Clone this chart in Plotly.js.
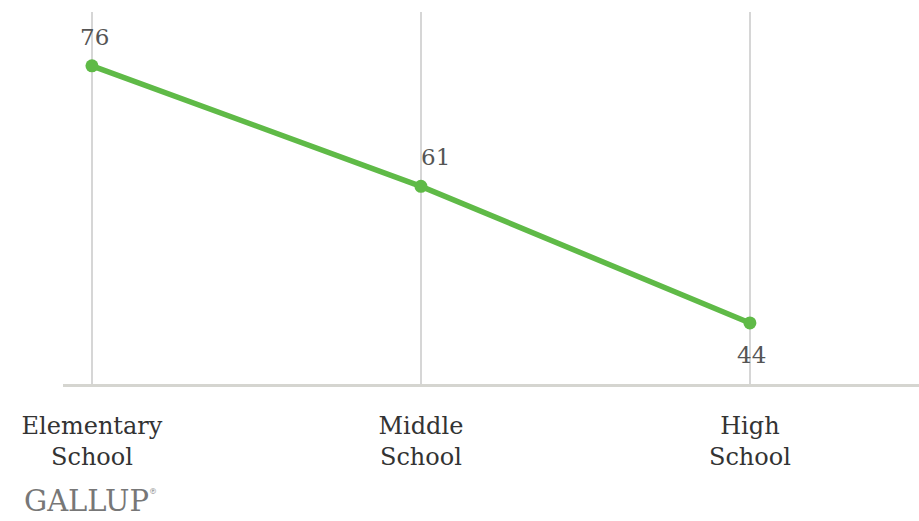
<!DOCTYPE html>
<html><head><meta charset="utf-8">
<script src="https://cdn.plot.ly/plotly-3.0.1.min.js"></script>
<style>html,body{margin:0;padding:0;background:#fff;}#c{width:919px;height:521px;}</style>
</head><body><div id="c"></div>
<script>
const categories = ["Elementary<br>School", "Middle<br>School", "High<br>School"];
const values = [76, 61, 44];

// label offsets in pixels (styling, not data)
const labelShift = [{dx: 3, dy: 29}, {dx: 15, dy: 29}, {dx: 2, dy: -32}];

const trace = {
  x: categories,
  y: values,
  type: "scatter",
  mode: "lines+markers",
  line: {color: "#5fba47", width: 5.5},
  marker: {color: "#5fba47", size: 13},
  cliponaxis: false,
  hoverinfo: "skip"
};

const valueLabels = values.map((v, i) => ({
  x: categories[i], y: v, xref: "x", yref: "y",
  text: String(v), showarrow: false,
  xshift: labelShift[i].dx, yshift: labelShift[i].dy,
  xanchor: "center", yanchor: "middle",
  font: {family: "DejaVu Serif", size: 23, color: "#555"}
}));

const layout = {
  width: 919, height: 521,
  margin: {l: 63, r: 0, t: 12, b: 137},
  paper_bgcolor: "#fff", plot_bgcolor: "#fff",
  showlegend: false,
  xaxis: {
    type: "category",
    range: [-0.088, 2.514],
    showgrid: true, gridcolor: "#d6d6d6", gridwidth: 1.5,
    showline: true, linecolor: "#d5d5d0", linewidth: 3,
    zeroline: false,
    ticks: "outside", ticklen: 18, tickcolor: "rgba(0,0,0,0)",
    tickfont: {family: "DejaVu Serif", size: 24, color: "#333"}
  },
  yaxis: {
    range: [36.4, 82.7],
    showgrid: false, zeroline: false, showline: false,
    showticklabels: false, ticks: ""
  },
  annotations: valueLabels.concat([{
    text: "GALLUP",
    xref: "paper", yref: "paper",
    x: -0.0479, y: -0.3145, xanchor: "left", yanchor: "middle",
    showarrow: false,
    font: {family: "DejaVu Serif", size: 29, color: "#777"}
  }, {
    text: "&#174;",
    xref: "paper", yref: "paper",
    x: (147 - 63) / 856, y: -0.29, xanchor: "left", yanchor: "middle",
    showarrow: false,
    font: {family: "DejaVu Serif", size: 8, color: "#777"}
  }])
};

Plotly.newPlot("c", [trace], layout, {staticPlot: true, displayModeBar: false});
</script>
</body></html>
